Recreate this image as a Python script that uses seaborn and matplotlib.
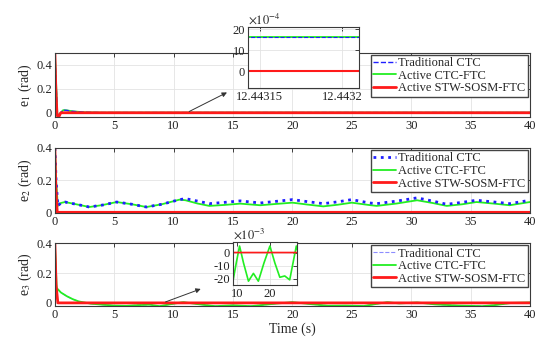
import numpy as np
import pandas as pd
import matplotlib
matplotlib.use("Agg")
import matplotlib.pyplot as plt
from matplotlib.ticker import FuncFormatter
import seaborn as sns

# ---------------- data ----------------
labels = ["Traditional CTC", "Active CTC-FTC", "Active STW-SOSM-FTC"]

# e1
t1 = [0, 0.1, 0.2, 0.3, 0.45, 0.7, 1.0, 1.5, 2.5, 4, 12.4, 40]
green1 = [0.5, 0.25, 0.0, -0.035, -0.005, 0.022, 0.02, 0.012, 0.004, 0.0016, 0.0016, 0.0016]
blue1 = [0.5, 0.25, 0.0, -0.035, -0.005, 0.022, 0.02, 0.012, 0.004, 0.0016, 0.0016, 0.0016]
t1_red = [0, 0.08, 0.18, 0.3, 0.5, 40]
red1 = [0.5, 0.2, -0.02, -0.04, 0.0, 0.0]
# e1 zoom window
t1_zoom = [12.44313, 12.44322]
green1_zoom = [16e-4, 16e-4]
blue1_zoom = [16e-4, 16e-4]
red1_zoom = [0.0, 0.0]

# e2
t2 = [0, 0.1, 0.25, 0.5, 0.85, 1.8, 2.9, 4.0, 5.2, 6.5, 7.7, 9.0, 10.5, 11.0, 12.0, 13.0,
      14.3, 15.6, 17.3, 18.6, 20.0, 21.3, 22.6, 23.8, 25.0, 26.5, 27.1, 28.8, 30.5, 31.8,
      33.0, 34.3, 35.5, 37.0, 38.3, 40]
green2 = [0.4, 0.2, 0.04, 0.058, 0.064, 0.05, 0.033, 0.045, 0.064, 0.05, 0.033, 0.05, 0.079,
          0.075, 0.055, 0.04, 0.046, 0.054, 0.044, 0.052, 0.06, 0.048, 0.037, 0.047, 0.06,
          0.045, 0.04, 0.055, 0.075, 0.058, 0.04, 0.05, 0.064, 0.054, 0.044, 0.064]
blue2 = [0.4, 0.2, 0.04, 0.058, 0.064, 0.05, 0.033, 0.045, 0.064, 0.05, 0.033, 0.05, 0.079,
         0.085, 0.07, 0.054, 0.062, 0.071, 0.058, 0.068, 0.079, 0.066, 0.054, 0.065, 0.079,
         0.058, 0.054, 0.07, 0.09, 0.07, 0.05, 0.062, 0.075, 0.064, 0.054, 0.075]
t2_red = [0, 0.08, 0.2, 40]
red2 = [0.4, 0.15, 0.0, 0.0]

# e3
t3 = [0, 0.15, 0.5, 1.0, 1.5, 2, 3, 4, 5, 6, 7, 8, 8.8, 9.8, 10.8, 12.0, 13.5, 15.0, 16.5,
      18.2, 20.0, 21.5, 23.0, 24.5, 26.0, 27.0, 28.0, 29.0, 30.5, 32, 34, 36, 37, 38.5, 40]
green3 = [0.4, 0.1, 0.07, 0.045, 0.025, 0.01, -0.005, -0.012, -0.018, -0.02, -0.015, -0.012,
          -0.022, -0.008, 0.005, -0.008, -0.022, -0.016, -0.022, -0.008, 0.005, -0.008,
          -0.019, -0.018, -0.021, -0.008, 0.005, -0.004, 0.003, -0.01, -0.018, -0.022,
          -0.015, 0.0, 0.003]
blue3 = list(green3)
t3_red = [0, 0.1, 0.25, 40]
red3 = [0.4, 0.12, 0.0, 0.0]

# ---------------- style ----------------
sns.set_theme(style="whitegrid")
plt.rcParams["font.family"] = ["Liberation Serif", "DejaVu Serif"]
plt.rcParams["mathtext.fontset"] = "stix"
plt.rcParams["font.size"] = 9

BLUE = "#1f1fff"
GREEN = "#22ee22"
RED = "#ff1a1a"

fig = plt.figure(figsize=(5.38, 3.41), dpi=100)
L, W = 0.102, 0.883
ax1 = fig.add_axes([L, 0.657, W, 0.188])
ax2 = fig.add_axes([L, 0.375, W, 0.191])
ax3 = fig.add_axes([L, 0.103, W, 0.184])


def style_axes(ax, fs=9):
    ax.set_facecolor("white")
    ax.grid(True, color="#e3e3e3", lw=0.6)
    for s in ax.spines.values():
        s.set_color("#3a3a3a")
        s.set_linewidth(0.8)
        s.set_visible(True)
    ax.tick_params(direction="in", length=3, width=0.6, top=True, right=True,
                   labelsize=fs, colors="#222222", pad=2)


def line(ax, x, y, color, ls="-", lw=1.0, label=None):
    sns.lineplot(x=x, y=y, ax=ax, color=color, linestyle=ls, lw=lw, label=label,
                 estimator=None, sort=False, legend=False)


def legend(ax):
    h, l = ax.get_legend_handles_labels()
    order = [l.index(k) for k in labels]
    ax.legend([h[i] for i in order], [l[i] for i in order], loc="upper right",
              fontsize=9, frameon=True, fancybox=False, framealpha=1,
              edgecolor="#444444", borderpad=0.2, labelspacing=0.05,
              handlelength=1.8, handletextpad=0.2, borderaxespad=0.15)


# e1
line(ax1, t1, green1, GREEN, "-", 1.3, labels[1])
line(ax1, t1, blue1, BLUE, "--", 1.0, labels[0])
line(ax1, t1_red, red1, RED, "-", 2.0, labels[2])
# e2
line(ax2, t2, green2, GREEN, "-", 1.3, labels[1])
line(ax2, t2, blue2, BLUE, ":", 2.0, labels[0])
line(ax2, t2_red, red2, RED, "-", 2.0, labels[2])
# e3
line(ax3, t3, blue3, "#8c8cff", "--", 0.8, labels[0])
line(ax3, t3, green3, GREEN, "-", 1.3, labels[1])
line(ax3, t3_red, red3, RED, "-", 2.0, labels[2])

ylims = [(-0.035, 0.5), (-0.005, 0.4), (-0.02, 0.4)]
for i, (ax, yl) in enumerate(zip([ax1, ax2, ax3], ylims)):
    style_axes(ax)
    ax.set_xlim(0, 40)
    ax.set_ylim(*yl)
    ax.set_xticks(range(0, 41, 5))
    ax.set_yticks([0, 0.2, 0.4])
    ax.set_yticklabels(["0", "0.2", "0.4"])
    ax.set_ylabel(f"e$_{i + 1}$ (rad)", fontsize=10, labelpad=2)
    ax.set_xlabel("")
    legend(ax)
ax3.set_xlabel("Time (s)", fontsize=10, labelpad=1)

# inset on e1
ins1 = fig.add_axes([0.461, 0.742, 0.206, 0.179])
line(ins1, t1_zoom, green1_zoom, GREEN, "-", 1.3)
line(ins1, t1_zoom, blue1_zoom, BLUE, "--", 0.8)
line(ins1, t1_zoom, red1_zoom, RED, "-", 1.5)
style_axes(ins1)
ins1.set_xlim(12.443143, 12.44321)
ins1.set_ylim(-8e-4, 21e-4)
ins1.set_xticks([12.44315, 12.4432])
ins1.set_xticklabels(["12.44315", "12.4432"])
ins1.set_yticks([0, 10e-4, 20e-4])
ins1.yaxis.set_major_formatter(FuncFormatter(lambda v, p: f"{v * 1e4:.0f}".replace("\u2212", "-")))
ins1.text(0.0, 1.01, r"$\times10^{-4}$", transform=ins1.transAxes, ha="left", va="bottom",
          fontsize=9)
ins1.set_xlabel("")
ins1.set_ylabel("")

# inset on e3
ins3 = fig.add_axes([0.433, 0.164, 0.119, 0.126])
line(ins3, t3, green3, GREEN, "-", 1.2)
line(ins3, t3_red, red3, RED, "-", 1.2)
style_axes(ins3)
ins3.set_xlim(8.8, 28.2)
ins3.set_ylim(-25e-3, 8e-3)
ins3.set_xticks([10, 20])
ins3.set_yticks([-20e-3, -10e-3, 0])
ins3.yaxis.set_major_formatter(FuncFormatter(lambda v, p: f"{v * 1e3:.0f}".replace("-0", "0") if abs(v) < 1e-9 else f"{v * 1e3:.0f}"))
ins3.text(0.0, 1.01, r"$\times10^{-3}$", transform=ins3.transAxes, ha="left", va="bottom",
          fontsize=9)
ins3.set_xlabel("")
ins3.set_ylabel("")

# arrows
ax1.annotate("", xy=(14.7, 0.18), xytext=(11.1, 0.0),
             arrowprops=dict(arrowstyle="-|>", color="#333333", lw=0.7, mutation_scale=7))
ax3.annotate("", xy=(12.5, 0.1), xytext=(9.1, 0.0),
             arrowprops=dict(arrowstyle="-|>", color="#333333", lw=0.7, mutation_scale=7))

fig.savefig("out.png", dpi=100, facecolor="white")
